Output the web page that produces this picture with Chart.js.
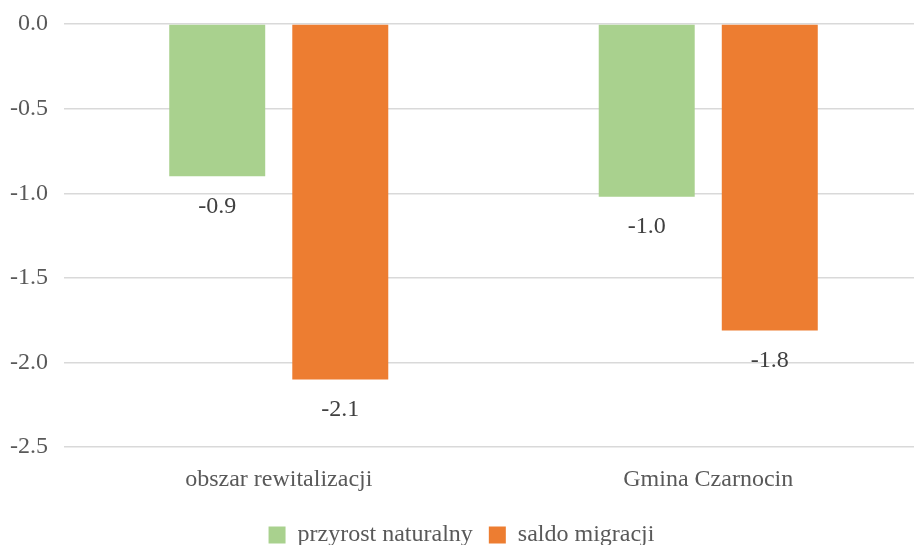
<!DOCTYPE html>
<html>
<head>
<meta charset="utf-8">
<script src="https://cdn.jsdelivr.net/npm/chart.js@4.4.1/dist/chart.umd.min.js"></script>
<style>
  html, body { margin: 0; padding: 0; background: #fff; overflow: hidden; }
  #wrap { width: 942px; height: 545px; }
</style>
</head>
<body>
<div id="wrap"><canvas id="chart" width="942" height="545"></canvas></div>
<script>
const categories = ['obszar rewitalizacji', 'Gmina Czarnocin'];
const przyrost = [-0.9, -1.02];
const saldo = [-2.1, -1.81];
const seriesNames = ['przyrost naturalny', 'saldo migracji'];
const yTicks = [0, -0.5, -1.0, -1.5, -2.0, -2.5];

const FONT = "'Liberation Serif', 'Times New Roman', serif";

// value labels under the end of each bar
const valueLabels = {
  id: 'valueLabels',
  afterDatasetsDraw(chart) {
    const c = chart.ctx;
    c.save();
    c.font = '24px ' + FONT;
    c.fillStyle = '#404040';
    c.textAlign = 'center';
    c.textBaseline = 'middle';
    chart.data.datasets.forEach((ds, i) => {
      chart.getDatasetMeta(i).data.forEach((bar, j) => {
        c.fillText(ds.data[j].toFixed(1), bar.x, bar.y + 30);
      });
    });
    c.restore();
  }
};

new Chart(document.getElementById('chart'), {
  type: 'bar',
  data: {
    labels: categories,
    datasets: [
      { label: seriesNames[0], data: przyrost, backgroundColor: '#A9D18E' },
      { label: seriesNames[1], data: saldo, backgroundColor: '#ED7D31' }
    ]
  },
  options: {
    responsive: false,
    animation: false,
    layout: { padding: { top: 24, right: 19, left: 0, bottom: -12 } },
    datasets: { bar: { categoryPercentage: 0.573, barPercentage: 0.78 } },
    plugins: {
      tooltip: { enabled: false },
      legend: {
        position: 'bottom',
        labels: {
          font: { family: FONT, size: 24 },
          color: '#595959',
          boxWidth: 17,
          boxHeight: 17,
          padding: 16
        }
      }
    },
    scales: {
      x: {
        afterFit(scale) { scale.height += 3; },
        grid: { display: false },
        border: { display: false },
        ticks: { font: { family: FONT, size: 24 }, color: '#595959', padding: 10 }
      },
      y: {
        min: -2.5,
        max: 0,
        afterFit(scale) { scale.width = 64; scale.paddingTop = 0; scale.paddingBottom = 0; },
        afterBuildTicks(scale) { scale.ticks = yTicks.map(v => ({ value: v })); },
        grid: { color: '#d9d9d9', lineWidth: 1.5, drawTicks: false },
        border: { display: false },
        ticks: {
          font: { family: FONT, size: 24 },
          color: '#595959',
          padding: 16,
          callback: v => v.toFixed(1)
        }
      }
    }
  },
  plugins: [valueLabels]
});
</script>
</body>
</html>
